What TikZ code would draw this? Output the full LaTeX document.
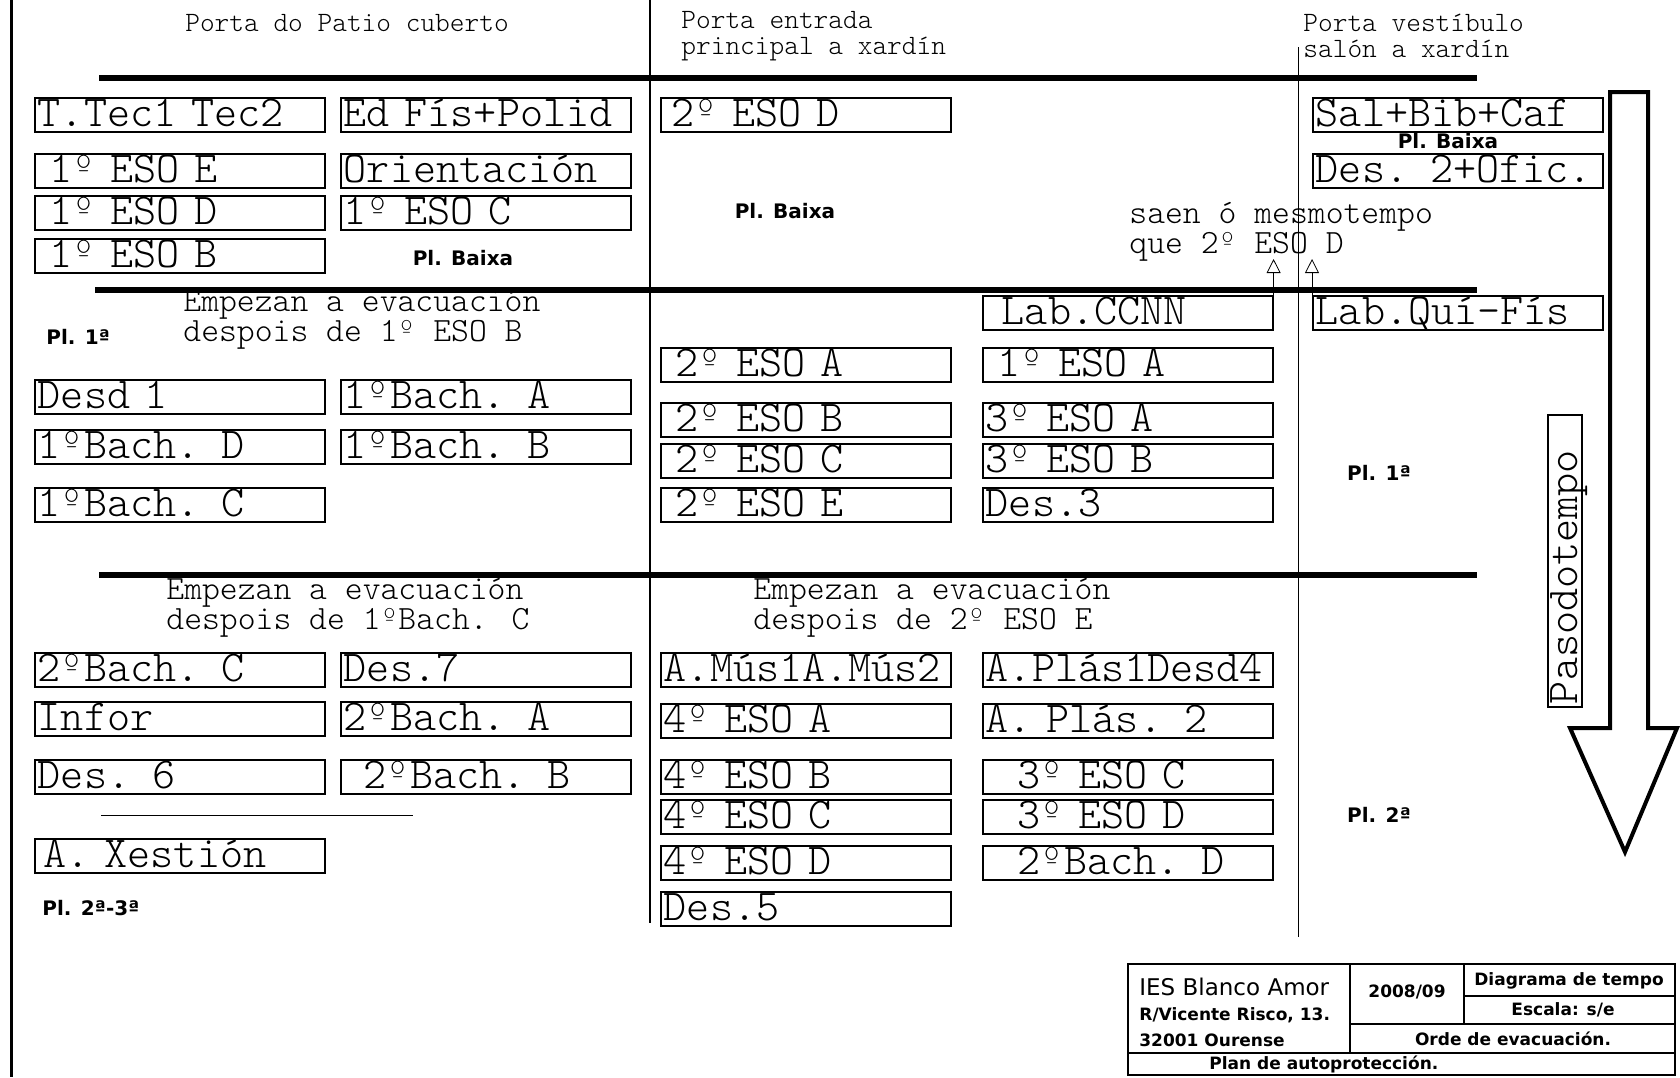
\documentclass[tikz,border=0pt]{standalone}
\usepackage{fontspec}
\newfontfamily\plfont{DejaVu Sans}
\newfontfamily\cadfont{lmmonolt10-regular.otf}
\usetikzlibrary{arrows.meta}

\begin{document}
\begin{tikzpicture}[x=0.5pt,y=-0.5pt,
room/.style={draw,line width=0.8pt,anchor=north west,minimum width=145pt,minimum height=17pt,
  inner xsep=1.5pt,inner ysep=0pt,text width=142pt,align=left,text height=14pt,text depth=2pt,
  font=\cadfont\fontsize{22}{22}\selectfont},
note/.style={anchor=west,align=left,inner sep=0pt,font=\cadfont\fontsize{17}{15}\selectfont},
door/.style={anchor=west,align=left,inner sep=0pt,font=\cadfont\fontsize{14}{13}\selectfont},
plant/.style={inner sep=0pt,font=\plfont\bfseries\fontsize{10}{12}\selectfont},
floor/.style={line width=3pt},
tb/.style={inner sep=0pt,font=\plfont\bfseries\fontsize{8.5}{10}\selectfont}]
\useasboundingbox (0,0) rectangle (1680,1077);

% frame and dividers
\draw[line width=1.5pt] (11,0) -- (11,1077);
\draw[line width=1pt] (650,0) -- (650,923);
\draw[line width=0.5pt] (1298,47) -- (1298,937);
\draw[floor] (99,78) -- (1477,78);
\draw[floor] (95,290) -- (1477,290);
\draw[floor] (99,575) -- (1477,575);

% doors
\node[door,anchor=center] (patio) at (347,23) {Porta do Patio cuberto};
\node[door] (entrada) at (681,36) {Porta entrada\\principal a xardín};
\node[door] (vestib) at (1303,36) {Porta vestíbulo\\salón a xardín};

% planta baixa
\node[room] (ttec) at (34,97) {T.Tec1 Tec2};
\node[room] (e1e) at (34,153) {\hspace{6pt}1º ESO E};
\node[room] (e1d) at (34,195) {\hspace{6pt}1º ESO D};
\node[room] (e1b) at (34,238) {\hspace{6pt}1º ESO B};
\node[room] (edfis) at (340,97) {Ed Fís+Polid};
\node[room] (orient) at (340,153) {Orientación};
\node[room] (e1c) at (340,195) {1º ESO C};
\node[room] (e2d) at (660,97) {\hspace{4pt}2º ESO D};
\node[room] (salbib) at (1312,97) {Sal+Bib+Caf};
\node[room] (des2) at (1312,153) {Des. 2+Ofic.};
\node[plant] (pb1) at (463,258) {Pl. Baixa};
\node[plant] (pb2) at (785,211) {Pl. Baixa};
\node[plant] (pb3) at (1448,141) {Pl. Baixa};
\node[note] (saen) at (1129,232) {saen ó mesmotempo\\que 2º ESO D};

% planta 1
\node[note] (ev1) at (183,320) {Empezan a evacuación\\despois de 1º ESO B};
\node[plant,anchor=west] (p1a) at (46,337) {Pl. 1ª};
\node[room] (desd1) at (34,379) {Desd 1};
\node[room] (b1d) at (34,429) {1ºBach. D};
\node[room] (b1c) at (34,487) {1ºBach. C};
\node[room] (b1a) at (340,379) {1ºBach. A};
\node[room] (b1b) at (340,429) {1ºBach. B};
\node[room] (e2a) at (660,347) {\hspace{6pt}2º ESO A};
\node[room] (e2b) at (660,402) {\hspace{6pt}2º ESO B};
\node[room] (e2c) at (660,443) {\hspace{6pt}2º ESO C};
\node[room] (e2e) at (660,487) {\hspace{6pt}2º ESO E};
\node[room] (ccnn) at (982,295) {\hspace{8pt}Lab.CCNN};
\node[room] (e1a) at (982,347) {\hspace{6pt}1º ESO A};
\node[room] (e3a) at (982,402) {3º ESO A};
\node[room] (e3b) at (982,443) {3º ESO B};
\node[room] (des3) at (982,487) {Des.3};
\node[room] (labqf) at (1312,295) {Lab.Quí-Fís};
\node[plant] (p1b) at (1379,473) {Pl. 1ª};
\draw[-{Triangle[open,length=7pt,width=7pt]}] (ccnn.north east) -- ++(0,-36);
\draw[-{Triangle[open,length=7pt,width=7pt]}] (labqf.north west) -- ++(0,-36);

% planta 2 e 3
\node[note] (ev2) at (166,608) {Empezan a evacuación\\despois de 1ºBach. C};
\node[note] (ev3) at (753,608) {Empezan a evacuación\\despois de 2º ESO E};
\node[room] (b2c) at (34,652) {2ºBach. C};
\node[room] (infor) at (34,701) {Infor};
\node[room] (des6) at (34,759) {Des. 6};
\node[room] (xest) at (34,838) {\hspace{3pt}A. Xestión};
\draw (101,815) -- (413,815);
\node[plant,anchor=west] (p23) at (42,908) {Pl. 2ª-3ª};
\node[room] (des7) at (340,652) {Des.7};
\node[room] (b2a) at (340,701) {2ºBach. A};
\node[room] (b2b) at (340,759) {\hspace{10pt}2ºBach. B};
\node[room] (mus) at (660,652) {A.Mús1A.Mús2};
\node[room] (e4a) at (660,703) {4º ESO A};
\node[room] (e4b) at (660,759) {4º ESO B};
\node[room] (e4c) at (660,799) {4º ESO C};
\node[room] (e4d) at (660,845) {4º ESO D};
\node[room] (des5) at (660,891) {Des.5};
\node[room] (plas1) at (982,652) {A.Plás1Desd4};
\node[room] (plas2) at (982,703) {A. Plás. 2};
\node[room] (e3c) at (982,759) {\hspace{16pt}3º ESO C};
\node[room] (e3d) at (982,799) {\hspace{16pt}3º ESO D};
\node[room] (b2d) at (982,845) {\hspace{16pt}2ºBach. D};
\node[plant] (p2) at (1379,815) {Pl. 2ª};

% frecha do tempo
\node[room,anchor=center,rotate=90,minimum width=146pt,text width=143pt] (paso) at (1565,561) {Pasodotempo};
\draw[line width=2pt] (1610,92) -- (1648,92) -- (1648,728) -- (1677,728) -- (1625,852)
  -- (1570,728) -- (1610,728) -- cycle;

% caixetin
\draw[line width=1pt] (1128,964) rectangle (1675,1075);
\draw[line width=1pt] (1128,1053) -- (1675,1053);
\draw[line width=1pt] (1350,964) -- (1350,1053);
\draw[line width=1pt] (1464,964) -- (1464,1024);
\draw[line width=1pt] (1350,1024) -- (1675,1024);
\draw[line width=1pt] (1464,996) -- (1675,996);
\node[tb,anchor=west,font=\plfont\fontsize{11.5}{12}\selectfont] (ies) at (1139,987) {IES Blanco Amor};
\node[tb,anchor=west] (rua) at (1139,1015) {R/Vicente Risco, 13.};
\node[tb,anchor=west] (cp) at (1139,1040) {32001 Ourense};
\node[tb] (curso) at (1407,992) {2008/09};
\node[tb] (diag) at (1569,981) {Diagrama de tempo};
\node[tb] (esc) at (1563,1010) {Escala: s/e};
\node[tb] (orde) at (1513,1039) {Orde de evacuación.};
\node[tb,anchor=west] (plan) at (1209,1064) {Plan de autoprotección.};
\end{tikzpicture}
\end{document}
